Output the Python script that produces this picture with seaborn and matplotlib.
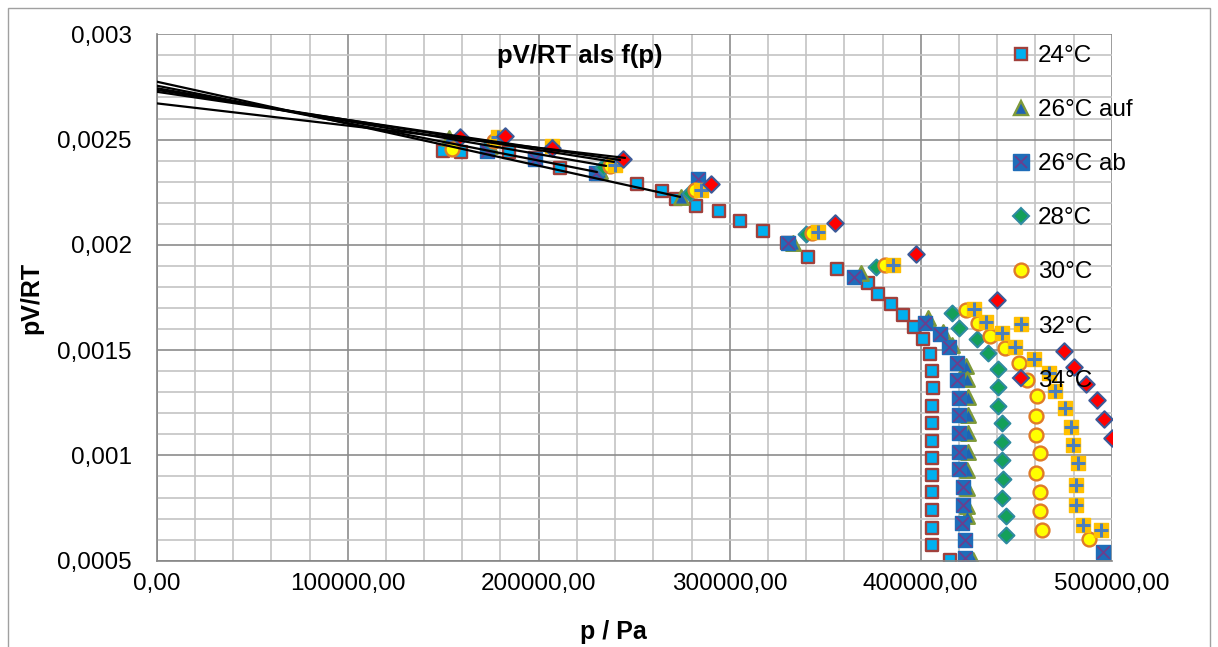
import matplotlib
matplotlib.use("Agg")
import matplotlib.pyplot as plt
import seaborn as sns
from matplotlib.lines import Line2D
from matplotlib.legend_handler import HandlerTuple
from matplotlib.patches import Rectangle
from matplotlib.ticker import MultipleLocator, FuncFormatter

# Messwerte: Druck p in Pa, pV/RT
p_24 = [149900, 159300, 184500, 198100, 211200, 230500, 251500, 264600, 271900, 282400,
        294400, 305400, 317500, 330000, 341000, 356200, 372400, 377700, 384500, 390800,
        396500, 401200, 404900, 405800, 406500, 405800, 405800, 405800, 405800, 405800,
        405800, 405800, 405800, 405800, 415400]
v_24 = [0.002446, 0.002443, 0.002440, 0.002411, 0.002367, 0.002335, 0.002288, 0.002257, 0.002218, 0.002186,
        0.002161, 0.002115, 0.002066, 0.002008, 0.001944, 0.001886, 0.001820, 0.001767, 0.001719, 0.001667,
        0.001612, 0.001552, 0.001481, 0.001401, 0.001322, 0.001237, 0.001153, 0.001070, 0.000990, 0.000908,
        0.000824, 0.000742, 0.000657, 0.000575, 0.000504]

p_26auf = [153000, 174500, 232100, 274500, 333200, 368800, 403900, 411700, 416400, 423700,
           424300, 424800, 424800, 424800, 424800, 424300, 424300, 424300, 424300, 427400]
v_26auf = [0.002508, 0.002470, 0.002351, 0.002228, 0.002008, 0.001867, 0.001653, 0.001587, 0.001525, 0.001425,
           0.001363, 0.001278, 0.001192, 0.001107, 0.001017, 0.000931, 0.000846, 0.000760, 0.000710, 0.000504]

p_26ab = [172800, 198100, 230000, 283600, 330400, 365000, 402300, 410100, 415000, 419200,
          419200, 420200, 420200, 420200, 420200, 420200, 422300, 422300, 421500, 423200,
          423200, 495300]
v_26ab = [0.002448, 0.002410, 0.002339, 0.002311, 0.002008, 0.001849, 0.001628, 0.001576, 0.001513, 0.001441,
          0.001359, 0.001275, 0.001192, 0.001106, 0.001018, 0.000935, 0.000849, 0.000765, 0.000678, 0.000596,
          0.000512, 0.000543]

p_28 = [175400, 233700, 279200, 340000, 376600, 416600, 420200, 429400, 435400, 440700,
        440700, 440700, 442400, 442400, 442400, 443300, 442400, 444400, 444400]
v_28 = [0.002482, 0.002372, 0.002247, 0.002052, 0.001897, 0.001678, 0.001604, 0.001552, 0.001488, 0.001411,
        0.001324, 0.001237, 0.001153, 0.001066, 0.000976, 0.000887, 0.000797, 0.000710, 0.000623]

p_30 = [154500, 176600, 237400, 281900, 343200, 381300, 423800, 430200, 436300, 444200,
        451700, 455500, 460800, 460400, 460400, 462500, 460400, 462500, 462500, 463400, 488300]
v_30 = [0.002455, 0.002492, 0.002375, 0.002261, 0.002057, 0.001905, 0.001691, 0.001630, 0.001568, 0.001509,
        0.001441, 0.001359, 0.001283, 0.001189, 0.001097, 0.001011, 0.000916, 0.000825, 0.000737, 0.000646, 0.000602]

p_32 = [178700, 207000, 240000, 285000, 346100, 385400, 427900, 434200, 442400, 449400,
        459400, 467400, 470400, 475600, 478600, 479900, 482200, 481400, 481400, 485200, 494500]
v_32 = [0.002510, 0.002470, 0.002379, 0.002261, 0.002060, 0.001904, 0.001694, 0.001635, 0.001580, 0.001514,
        0.001457, 0.001393, 0.001306, 0.001224, 0.001137, 0.001050, 0.000963, 0.000860, 0.000765, 0.000670, 0.000646]

p_34 = [158800, 182100, 207000, 244200, 290200, 355200, 397600, 440000, 475200, 480200,
        486400, 492500, 496200, 500000]
v_34 = [0.002510, 0.002515, 0.002460, 0.002409, 0.002289, 0.002103, 0.001957, 0.001738, 0.001498, 0.001422,
        0.001340, 0.001261, 0.001173, 0.001085]

# lineare Trendlinien (Achsenabschnitt bei p=0 bis letzter Punkt)
fit_v0 = [0.002775, 0.002756, 0.002744, 0.002736, 0.002727, 0.002672]
fit_p_end = [274000, 230500, 235300, 239400, 242600, 245200]
fit_v_end = [0.002228, 0.002346, 0.002375, 0.002394, 0.002403, 0.002413]

labels = ['24°C', '26°C auf', '26°C ab', '28°C', '30°C', '32°C', '34°C']

sns.set_style("white")
plt.rcParams['font.family'] = ['Liberation Sans', 'DejaVu Sans']
plt.rcParams['font.size'] = 17.5
plt.rcParams['text.color'] = 'black'
plt.rcParams['axes.labelcolor'] = 'black'
plt.rcParams['xtick.color'] = 'black'
plt.rcParams['ytick.color'] = 'black'

W, H = 1218, 647
fig = plt.figure(figsize=(W / 100, H / 100), dpi=100)
ax = fig.add_axes([156.7 / W, 1 - 560.7 / H, 955 / W, 526.4 / H])

# Reihen in Excel-Reihenfolge (spätere liegen oben)
sns.scatterplot(x=p_24, y=v_24, marker='s', s=85, color='#00B0F0', edgecolor='#A0403C', linewidth=1.7, ax=ax, zorder=2)
sns.scatterplot(x=p_26auf, y=v_26auf, marker='^', s=110, color='#1F63B4', edgecolor='#7F9A3A', linewidth=1.7, ax=ax, zorder=2)
sns.scatterplot(x=p_26ab, y=v_26ab, marker='s', s=115, color='#1E6DB9', edgecolor='#1E6DB9', linewidth=1.0, ax=ax, zorder=2)
sns.scatterplot(x=p_26ab, y=v_26ab, marker='x', s=80, color='#6A3E8E', linewidth=1.3, ax=ax, zorder=2)
sns.scatterplot(x=p_28, y=v_28, marker='D', s=65, color='#14A05A', edgecolor='#2E8BA0', linewidth=1.5, ax=ax, zorder=2)
sns.scatterplot(x=p_30, y=v_30, marker='o', s=100, color='#FFFF00', edgecolor='#E07B28', linewidth=1.7, ax=ax, zorder=2)
sns.scatterplot(x=p_32, y=v_32, marker='s', s=110, color='#FFC000', edgecolor='#FFC000', linewidth=1.0, ax=ax, zorder=2)
sns.scatterplot(x=p_32, y=v_32, marker='+', s=90, color='#4A7EBB', linewidth=2.2, ax=ax, zorder=2)
sns.scatterplot(x=p_34, y=v_34, marker='D', s=70, color='#FF0000', edgecolor='#3B5998', linewidth=1.5, ax=ax, zorder=2)

for v0, pe, ve in zip(fit_v0, fit_p_end, fit_v_end):
    ax.plot([0, pe], [v0, ve], color='black', lw=1.6, zorder=3)

ax.set_xlim(0, 500000)
ax.set_ylim(0.0005, 0.003)
ax.xaxis.set_major_locator(MultipleLocator(100000))
ax.xaxis.set_minor_locator(MultipleLocator(20000))
ax.yaxis.set_major_locator(MultipleLocator(0.0005))
ax.yaxis.set_minor_locator(MultipleLocator(0.0001))
ax.xaxis.set_major_formatter(FuncFormatter(lambda x, pos: f"{x:.2f}".replace('.', ',')))
ax.yaxis.set_major_formatter(FuncFormatter(lambda y, pos: f"{y:.4f}".rstrip('0').replace('.', ',')))

ax.grid(which='minor', color='#C4C4C4', lw=1.2)
ax.grid(which='major', color='#8C8C8C', lw=1.2)
ax.set_axisbelow(True)
for side in ['top', 'right']:
    ax.spines[side].set_visible(False)
for side in ['left', 'bottom']:
    ax.spines[side].set_color('#868686')
    ax.spines[side].set_linewidth(1.2)
ax.tick_params(which='major', direction='out', length=6, width=1.1, color='#868686', pad=3, labelsize=17.5)
ax.tick_params(axis='y', which='major', pad=12)
ax.tick_params(which='minor', length=0)

ax.set_xlabel('p / Pa', fontweight='bold', fontsize=18, labelpad=18)
ax.xaxis.label.set_x(0.478)
ax.set_ylabel('pV/RT', fontweight='bold', fontsize=18, labelpad=10)
ax.text(0.443, 0.958, 'pV/RT als f(p)', transform=ax.transAxes, ha='center', va='center',
        fontweight='bold', fontsize=18.5)

# Legende
h24 = Line2D([], [], ls='', marker='s', ms=9, mfc='#00B0F0', mec='#A0403C', mew=1.7)
h26a = Line2D([], [], ls='', marker='^', ms=10, mfc='#1F63B4', mec='#7F9A3A', mew=1.7)
h26b = (Line2D([], [], ls='', marker='s', ms=11, mfc='#1E6DB9', mec='#1E6DB9'),
        Line2D([], [], ls='', marker='x', ms=9, mec='#6A3E8E', mew=1.3))
h28 = Line2D([], [], ls='', marker='D', ms=8, mfc='#14A05A', mec='#2E8BA0', mew=1.5)
h30 = Line2D([], [], ls='', marker='o', ms=10, mfc='#FFFF00', mec='#E07B28', mew=1.7)
h32 = (Line2D([], [], ls='', marker='s', ms=10.5, mfc='#FFC000', mec='#FFC000'),
       Line2D([], [], ls='', marker='+', ms=9.5, mec='#4A7EBB', mew=2.2))
h34 = Line2D([], [], ls='', marker='D', ms=8.5, mfc='#FF0000', mec='#3B5998', mew=1.5)
fig.legend([h24, h26a, h26b, h28, h30, h32, h34], labels,
           handler_map={tuple: HandlerTuple(ndivide=1)},
           loc='upper left', bbox_to_anchor=(1011 / W, 1 - 45 / H), frameon=False,
           borderpad=0, borderaxespad=0, handlelength=0.8, handletextpad=0.3,
           labelspacing=1.32, fontsize=17.5)

# Rahmen des Diagrammbereichs
fig.patches.append(Rectangle((8 / W, -0.05), 1202 / W, 1.05 - 8 / H, transform=fig.transFigure,
                             fill=False, edgecolor='#A0A0A0', lw=1.0))

fig.savefig('out.png', dpi=100)
